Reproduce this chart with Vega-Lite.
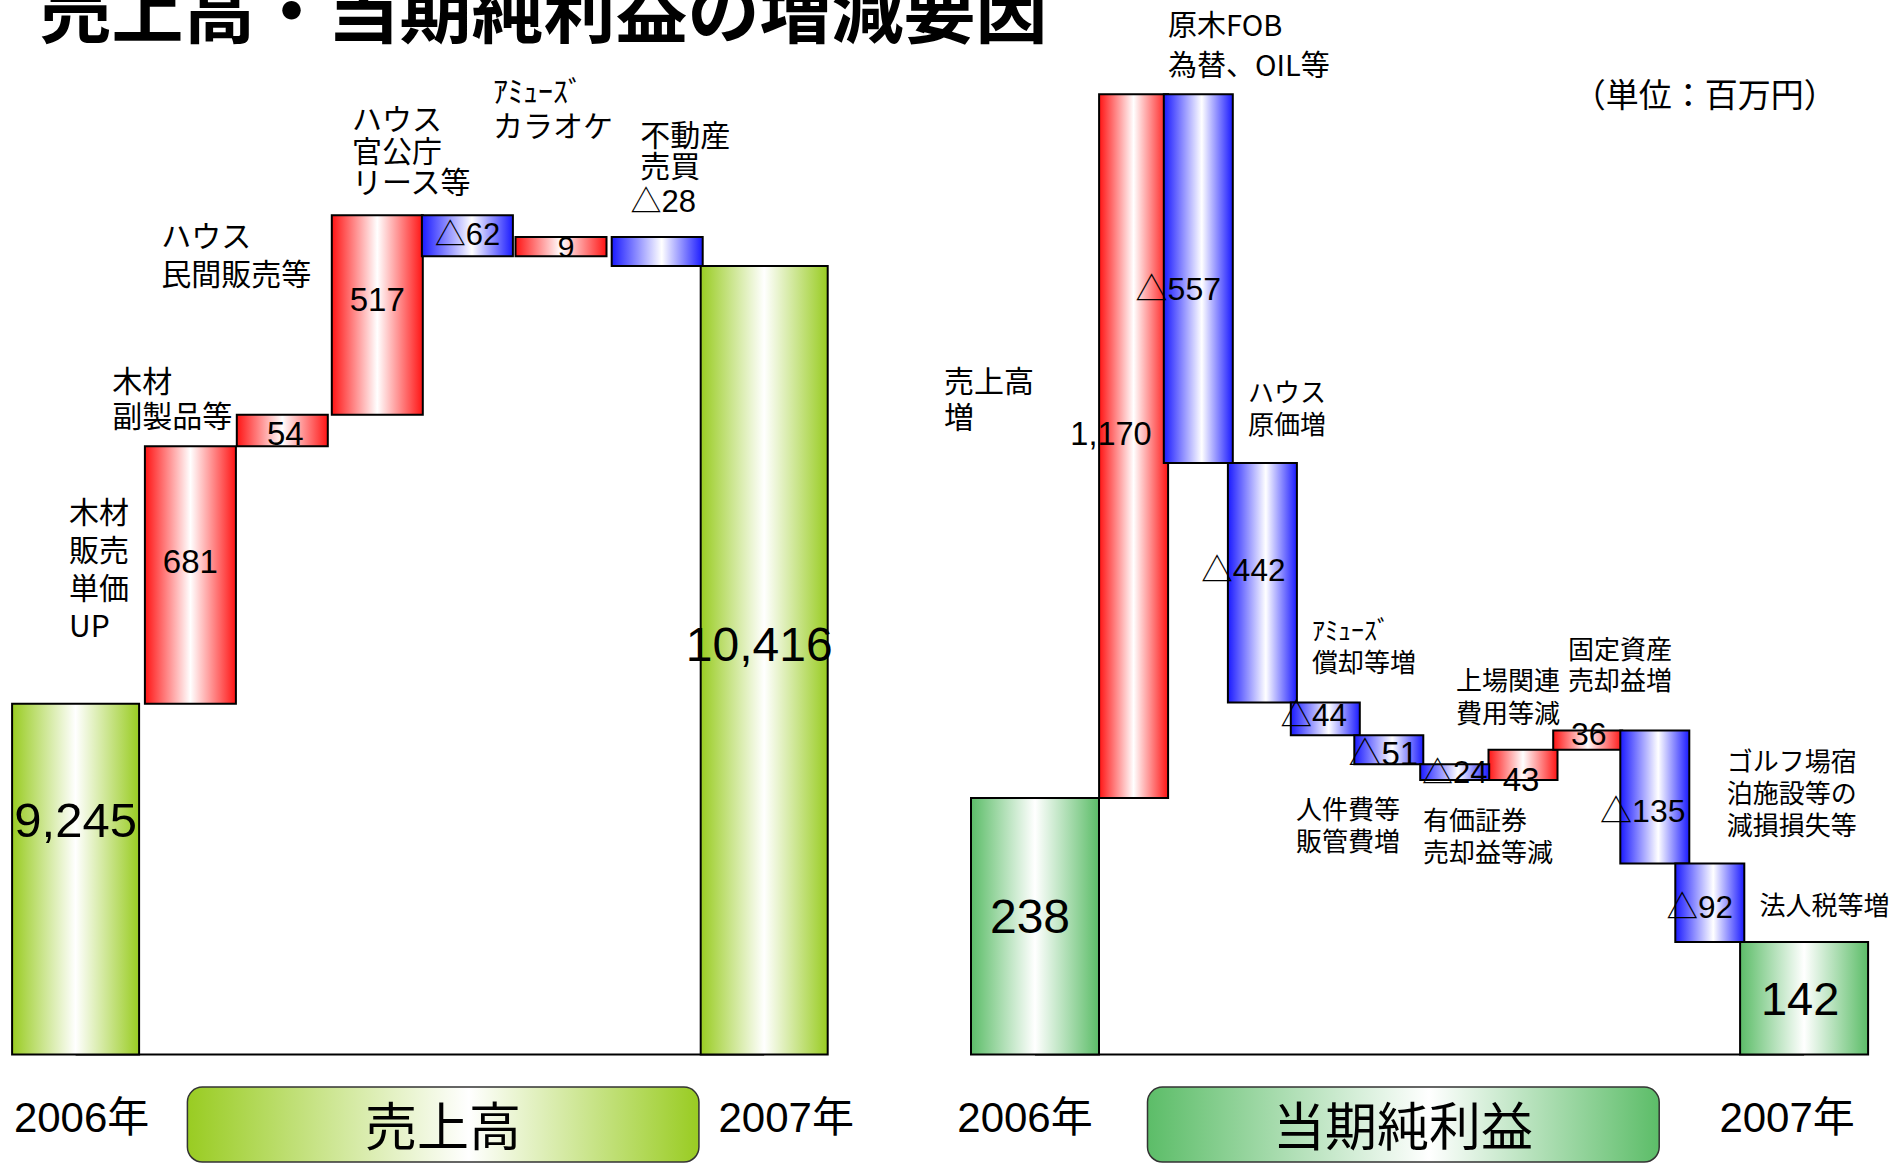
{
"$schema":"https://vega.github.io/schema/vega-lite/v6.json",
"width":1896,"height":1164,"autosize":"none","padding":0,"background":"white",
"config":{"view":{"stroke":null},"text":{"color":"black"}},
"datasets":{
"left":[
{"order":1,"kind":"base","lo":0,"hi":9245,"value":"9,245","year":"2006年"},
{"order":2,"kind":"up","lo":9245,"hi":9926,"value":"681","cat":["木材","販売","単価","UP"]},
{"order":3,"kind":"up","lo":9926,"hi":9980,"value":"54","cat":["木材","副製品等"]},
{"order":4,"kind":"up","lo":9980,"hi":10497,"value":"517","cat":["ハウス","民間販売等"]},
{"order":5,"kind":"down","lo":10435,"hi":10497,"value":"△62","cat":["ハウス","官公庁","リース等"]},
{"order":6,"kind":"up","lo":10435,"hi":10444,"value":"9","cat":["ｱﾐｭｰｽﾞ","カラオケ"]},
{"order":7,"kind":"down","lo":10416,"hi":10444,"value":"△28","cat":["不動産","売買"]},
{"order":8,"kind":"final","lo":0,"hi":10416,"value":"10,416","year":"2007年"}],
"right":[
{"order":11,"kind":"base","lo":0,"hi":238,"value":"238","year":"2006年"},
{"order":12,"kind":"up","lo":238,"hi":1408,"value":"1,170","cat":["売上高","増"]},
{"order":13,"kind":"down","lo":851,"hi":1408,"value":"△557","cat":["原木FOB","為替、OIL等"]},
{"order":14,"kind":"down","lo":409,"hi":851,"value":"△442","cat":["ハウス","原価増"]},
{"order":15,"kind":"down","lo":365,"hi":409,"value":"△44","cat":["ｱﾐｭｰｽﾞ","償却等増"]},
{"order":16,"kind":"down","lo":314,"hi":365,"value":"△51","cat":["人件費等","販管費増"]},
{"order":17,"kind":"down","lo":290,"hi":314,"value":"△24","cat":["有価証券","売却益等減"]},
{"order":18,"kind":"up","lo":290,"hi":333,"value":"43","cat":["上場関連","費用等減"]},
{"order":19,"kind":"up","lo":333,"hi":369,"value":"36","cat":["固定資産","売却益増"]},
{"order":20,"kind":"down","lo":234,"hi":369,"value":"△135","cat":["ゴルフ場宿","泊施設等の","減損損失等"]},
{"order":21,"kind":"down","lo":142,"hi":234,"value":"△92","cat":["法人税等増"]},
{"order":22,"kind":"final","lo":0,"hi":142,"value":"142","year":"2007年"}]
},
"encoding":{"x":{"field":"order","type":"quantitative","axis":null,"scale":{"nice":false,"zero":false,"padding":0,"domain":[1,2,3,4,5,6,7,8,11,12,13,14,15,16,17,18,19,20,21,22],"range":[75.6,190.4,282.3,377.3,467.4,561.0,657.2,764.2,1035,1133.6,1198.3,1262.4,1325.3,1388.8,1454.7,1523,1587.7,1654.8,1709.8,1804.1]}}},
"resolve":{"scale":{"y":"independent"}},
"layer":[
{
"data":{"name":"left"},
"encoding":{"y":{"field":"hi","type":"quantitative","axis":null,"scale":{"nice":false,"zero":false,"padding":0,"domain":[-100,0,9245,9926,9980,10416,10435,10444,10497],"range":[1165,1054.4,703.8,446.2,414.8,266.0,256.3,237.0,215.2]}}},
"layer":[
{"transform":[{"filter":"datum.order==1"}],"mark":{"type":"rule","stroke":"black","strokeWidth":2},"encoding":{"x2":{"datum":8},"y":{"datum":0}}},
{"transform":[{"filter":"datum.kind=='base'||datum.kind=='final'"}],"mark":{"type":"bar","orient":"vertical","width":127,"stroke":"black","strokeWidth":2,"fill":{"gradient":"linear","x1":0,"y1":0,"x2":1,"y2":0,"stops":[{"offset":0,"color":"#99cc22"},{"offset":0.5,"color":"#ffffff"},{"offset":1,"color":"#99cc22"}]}},"encoding":{"y2":{"field":"lo"}}},
{"transform":[{"filter":"datum.kind=='up'"}],"mark":{"type":"bar","orient":"vertical","width":91,"stroke":"black","strokeWidth":2,"fill":{"gradient":"linear","x1":0,"y1":0,"x2":1,"y2":0,"stops":[{"offset":0,"color":"#ff1414"},{"offset":0.5,"color":"#ffffff"},{"offset":1,"color":"#ff1414"}]}},"encoding":{"y2":{"field":"lo"}}},
{"transform":[{"filter":"datum.kind=='down'"}],"mark":{"type":"bar","orient":"vertical","width":91,"stroke":"black","strokeWidth":2,"fill":{"gradient":"linear","x1":0,"y1":0,"x2":1,"y2":0,"stops":[{"offset":0,"color":"#1a1aff"},{"offset":0.55,"color":"#ffffff"},{"offset":1,"color":"#1a1aff"}]}},"encoding":{"y2":{"field":"lo"}}},
{"transform":[{"filter":"datum.order==1"}],"mark":{"type":"text","font":"Liberation Sans, Noto Sans CJK JP","fontSize":49,"baseline":"middle","dy":118},"encoding":{"text":{"field":"value"}}},
{"transform":[{"filter":"datum.order==2"}],"mark":{"type":"text","font":"Liberation Sans, Noto Sans CJK JP","fontSize":33,"baseline":"middle","dy":117},"encoding":{"text":{"field":"value"}}},
{"transform":[{"filter":"datum.order==3"}],"mark":{"type":"text","font":"Liberation Sans, Noto Sans CJK JP","fontSize":33,"baseline":"middle","dx":3,"dy":20},"encoding":{"text":{"field":"value"}}},
{"transform":[{"filter":"datum.order==4"}],"mark":{"type":"text","font":"Liberation Sans, Noto Sans CJK JP","fontSize":33,"baseline":"middle","dy":86},"encoding":{"text":{"field":"value"}}},
{"transform":[{"filter":"datum.order==5"}],"mark":{"type":"text","font":"Liberation Sans, Noto Sans CJK JP","fontSize":31,"baseline":"middle","dy":21},"encoding":{"text":{"field":"value"}}},
{"transform":[{"filter":"datum.order==6"}],"mark":{"type":"text","font":"Liberation Sans, Noto Sans CJK JP","fontSize":30,"baseline":"middle","dx":5,"dy":11},"encoding":{"text":{"field":"value"}}},
{"transform":[{"filter":"datum.order==7"}],"mark":{"type":"text","font":"Liberation Sans, Noto Sans CJK JP","fontSize":31,"baseline":"middle","dx":6,"dy":-34},"encoding":{"text":{"field":"value"}}},
{"transform":[{"filter":"datum.order==8"}],"mark":{"type":"text","font":"Liberation Sans, Noto Sans CJK JP","fontSize":48,"baseline":"middle","dx":-5,"dy":381},"encoding":{"text":{"field":"value"}}},
{"transform":[{"filter":"datum.order==2"}],"mark":{"type":"text","font":"Noto Sans CJK JP","fontSize":30,"lineHeight":38,"align":"left","baseline":"middle","dx":-121.4,"dy":68},"encoding":{"text":{"field":"cat"}}},
{"transform":[{"filter":"datum.order==3"}],"mark":{"type":"text","font":"Noto Sans CJK JP","fontSize":30,"lineHeight":35,"align":"left","baseline":"middle","dx":-170,"dy":-31.5},"encoding":{"text":{"field":"cat"}}},
{"transform":[{"filter":"datum.order==4"}],"mark":{"type":"text","font":"Noto Sans CJK JP","fontSize":30,"lineHeight":37.5,"align":"left","baseline":"middle","dx":-216,"dy":23.25},"encoding":{"text":{"field":"cat"}}},
{"transform":[{"filter":"datum.order==5"}],"mark":{"type":"text","font":"Noto Sans CJK JP","fontSize":30,"lineHeight":31.5,"align":"left","baseline":"middle","dx":-115.4,"dy":-94.2},"encoding":{"text":{"field":"cat"}}},
{"transform":[{"filter":"datum.order==6"}],"mark":{"type":"text","font":"Noto Sans CJK JP","fontSize":30,"lineHeight":35,"align":"left","baseline":"middle","dx":-68,"dy":-143.8},"encoding":{"text":{"field":"cat"}}},
{"transform":[{"filter":"datum.order==7"}],"mark":{"type":"text","font":"Noto Sans CJK JP","fontSize":30,"lineHeight":31.5,"align":"left","baseline":"middle","dx":-17,"dy":-100.25},"encoding":{"text":{"field":"cat"}}},
{"transform":[{"filter":"datum.order==1"}],"mark":{"type":"text","font":"Liberation Sans, Noto Sans CJK JP","fontSize":42,"baseline":"middle","dx":6},"encoding":{"y":{"datum":-58},"text":{"field":"year"}}},
{"transform":[{"filter":"datum.order==8"}],"mark":{"type":"text","font":"Liberation Sans, Noto Sans CJK JP","fontSize":42,"baseline":"middle","dx":22},"encoding":{"y":{"datum":-58},"text":{"field":"year"}}},
{"transform":[{"filter":"datum.order==2"}],"mark":{"type":"rect","cornerRadius":15,"xOffset":-3,"stroke":"#333333","strokeWidth":1.5,"fill":{"gradient":"linear","x1":0,"y1":0,"x2":1,"y2":0,"stops":[{"offset":0,"color":"#99cc22"},{"offset":0.55,"color":"#ffffff"},{"offset":1,"color":"#99cc22"}]}},"encoding":{"x2":{"datum":7.39},"y":{"datum":-29.5},"y2":{"datum":-97.3}}},
{"transform":[{"filter":"datum.order==4"}],"mark":{"type":"text","font":"Noto Sans CJK JP","fontSize":52,"baseline":"middle","dx":65.8},"encoding":{"y":{"datum":-68.5},"text":{"value":"売上高"}}},
{"transform":[{"filter":"datum.order==1"}],"mark":{"type":"text","font":"Noto Sans CJK JP","fontSize":72,"fontWeight":"bold","align":"left","baseline":"alphabetic","dx":-36,"dy":-178.2},"encoding":{"y":{"datum":10497},"text":{"value":"売上高・当期純利益の増減要因"}}}
]
},
{
"data":{"name":"right"},
"encoding":{"y":{"field":"hi","type":"quantitative","axis":null,"scale":{"nice":false,"zero":false,"padding":0,"domain":[-100,0,142,234,238,290,314,333,365,369,409,851,1408],"range":[1165,1054.4,942.0,863.4,798.1,779.9,764.2,749.7,735.2,730.4,702.5,463.1,94.3]}}},
"layer":[
{"transform":[{"filter":"datum.order==11"}],"mark":{"type":"rule","stroke":"black","strokeWidth":2},"encoding":{"x2":{"datum":22},"y":{"datum":0}}},
{"transform":[{"filter":"datum.kind=='base'||datum.kind=='final'"}],"mark":{"type":"bar","orient":"vertical","width":128,"stroke":"black","strokeWidth":2,"fill":{"gradient":"linear","x1":0,"y1":0,"x2":1,"y2":0,"stops":[{"offset":0,"color":"#5cbd68"},{"offset":0.5,"color":"#ffffff"},{"offset":1,"color":"#5cbd68"}]}},"encoding":{"y2":{"field":"lo"}}},
{"transform":[{"filter":"datum.kind=='up'"}],"mark":{"type":"bar","orient":"vertical","width":69,"stroke":"black","strokeWidth":2,"fill":{"gradient":"linear","x1":0,"y1":0,"x2":1,"y2":0,"stops":[{"offset":0,"color":"#ff1414"},{"offset":0.5,"color":"#ffffff"},{"offset":1,"color":"#ff1414"}]}},"encoding":{"y2":{"field":"lo"}}},
{"transform":[{"filter":"datum.kind=='down'"}],"mark":{"type":"bar","orient":"vertical","width":69,"stroke":"black","strokeWidth":2,"fill":{"gradient":"linear","x1":0,"y1":0,"x2":1,"y2":0,"stops":[{"offset":0,"color":"#1a1aff"},{"offset":0.55,"color":"#ffffff"},{"offset":1,"color":"#1a1aff"}]}},"encoding":{"y2":{"field":"lo"}}},
{"transform":[{"filter":"datum.order==11"}],"mark":{"type":"text","font":"Liberation Sans, Noto Sans CJK JP","fontSize":48,"baseline":"middle","dx":-5,"dy":121},"encoding":{"text":{"field":"value"}}},
{"transform":[{"filter":"datum.order==12"}],"mark":{"type":"text","font":"Liberation Sans, Noto Sans CJK JP","fontSize":32.5,"baseline":"middle","dx":-22.6,"dy":341},"encoding":{"text":{"field":"value"}}},
{"transform":[{"filter":"datum.order==13"}],"mark":{"type":"text","font":"Liberation Sans, Noto Sans CJK JP","fontSize":32,"baseline":"middle","dx":-20,"dy":196},"encoding":{"text":{"field":"value"}}},
{"transform":[{"filter":"datum.order==14"}],"mark":{"type":"text","font":"Liberation Sans, Noto Sans CJK JP","fontSize":31.5,"baseline":"middle","dx":-19,"dy":109},"encoding":{"text":{"field":"value"}}},
{"transform":[{"filter":"datum.order==15"}],"mark":{"type":"text","font":"Liberation Sans, Noto Sans CJK JP","fontSize":31.5,"baseline":"middle","dx":-11.5,"dy":14.5},"encoding":{"text":{"field":"value"}}},
{"transform":[{"filter":"datum.order==16"}],"mark":{"type":"text","font":"Liberation Sans, Noto Sans CJK JP","fontSize":33,"baseline":"middle","dx":-5.5,"dy":19.3},"encoding":{"text":{"field":"value"}}},
{"transform":[{"filter":"datum.order==17"}],"mark":{"type":"text","font":"Liberation Sans, Noto Sans CJK JP","fontSize":31,"baseline":"middle","dx":0,"dy":10},"encoding":{"text":{"field":"value"}}},
{"transform":[{"filter":"datum.order==18"}],"mark":{"type":"text","font":"Liberation Sans, Noto Sans CJK JP","fontSize":33,"baseline":"middle","dx":-2,"dy":31},"encoding":{"text":{"field":"value"}}},
{"transform":[{"filter":"datum.order==19"}],"mark":{"type":"text","font":"Liberation Sans, Noto Sans CJK JP","fontSize":32,"baseline":"middle","dx":1,"dy":5},"encoding":{"text":{"field":"value"}}},
{"transform":[{"filter":"datum.order==20"}],"mark":{"type":"text","font":"Liberation Sans, Noto Sans CJK JP","fontSize":32,"baseline":"middle","dx":-12,"dy":82},"encoding":{"text":{"field":"value"}}},
{"transform":[{"filter":"datum.order==21"}],"mark":{"type":"text","font":"Liberation Sans, Noto Sans CJK JP","fontSize":31.5,"baseline":"middle","dx":-10,"dy":46},"encoding":{"text":{"field":"value"}}},
{"transform":[{"filter":"datum.order==22"}],"mark":{"type":"text","font":"Liberation Sans, Noto Sans CJK JP","fontSize":47,"baseline":"middle","dx":-4,"dy":59},"encoding":{"text":{"field":"value"}}},
{"transform":[{"filter":"datum.order==12"}],"mark":{"type":"text","font":"Noto Sans CJK JP","fontSize":30,"lineHeight":36,"align":"left","baseline":"middle","dx":-189.6,"dy":289},"encoding":{"text":{"field":"cat"}}},
{"transform":[{"filter":"datum.order==13"}],"mark":{"type":"text","font":"Noto Sans CJK JP","fontSize":29,"lineHeight":40,"align":"left","baseline":"middle","dx":-30.3,"dy":-67.8},"encoding":{"text":{"field":"cat"}}},
{"transform":[{"filter":"datum.order==14"}],"mark":{"type":"text","font":"Noto Sans CJK JP","fontSize":26,"lineHeight":31.5,"align":"left","baseline":"middle","dx":-14.4,"dy":-68.75},"encoding":{"text":{"field":"cat"}}},
{"transform":[{"filter":"datum.order==15"}],"mark":{"type":"text","font":"Noto Sans CJK JP","fontSize":26,"lineHeight":31.4,"align":"left","baseline":"middle","dx":-13.3,"dy":-70.2},"encoding":{"text":{"field":"cat"}}},
{"transform":[{"filter":"datum.order==16"}],"mark":{"type":"text","font":"Noto Sans CJK JP","fontSize":26,"lineHeight":31.4,"align":"left","baseline":"middle","dx":-92.8,"dy":76.1},"encoding":{"text":{"field":"cat"}}},
{"transform":[{"filter":"datum.order==17"}],"mark":{"type":"text","font":"Noto Sans CJK JP","fontSize":26,"lineHeight":31.4,"align":"left","baseline":"middle","dx":-31.7,"dy":58.1},"encoding":{"text":{"field":"cat"}}},
{"transform":[{"filter":"datum.order==18"}],"mark":{"type":"text","font":"Noto Sans CJK JP","fontSize":26,"lineHeight":32.6,"align":"left","baseline":"middle","dx":-67,"dy":-67.7},"encoding":{"text":{"field":"cat"}}},
{"transform":[{"filter":"datum.order==19"}],"mark":{"type":"text","font":"Noto Sans CJK JP","fontSize":26,"lineHeight":31.4,"align":"left","baseline":"middle","dx":-19.7,"dy":-79.8},"encoding":{"text":{"field":"cat"}}},
{"transform":[{"filter":"datum.order==20"}],"mark":{"type":"text","font":"Noto Sans CJK JP","fontSize":26,"lineHeight":32,"align":"left","baseline":"middle","dx":72,"dy":32.6},"encoding":{"text":{"field":"cat"}}},
{"transform":[{"filter":"datum.order==21"}],"mark":{"type":"text","font":"Noto Sans CJK JP","fontSize":26,"align":"left","baseline":"middle","dx":49.6,"dy":43.6},"encoding":{"text":{"field":"cat"}}},
{"transform":[{"filter":"datum.order==11"}],"mark":{"type":"text","font":"Liberation Sans, Noto Sans CJK JP","fontSize":42,"baseline":"middle","dx":-10},"encoding":{"y":{"datum":-58},"text":{"field":"year"}}},
{"transform":[{"filter":"datum.order==22"}],"mark":{"type":"text","font":"Liberation Sans, Noto Sans CJK JP","fontSize":42,"baseline":"middle","dx":-17},"encoding":{"y":{"datum":-58},"text":{"field":"year"}}},
{"transform":[{"filter":"datum.order==12"}],"mark":{"type":"rect","cornerRadius":15,"xOffset":13.9,"stroke":"#333333","strokeWidth":1.5,"fill":{"gradient":"linear","x1":0,"y1":0,"x2":1,"y2":0,"stops":[{"offset":0,"color":"#5cbd68"},{"offset":0.55,"color":"#ffffff"},{"offset":1,"color":"#5cbd68"}]}},"encoding":{"x2":{"datum":20.08},"y":{"datum":-29.5},"y2":{"datum":-97.3}}},
{"transform":[{"filter":"datum.order==16"}],"mark":{"type":"text","font":"Noto Sans CJK JP","fontSize":52,"baseline":"middle","dx":14.2},"encoding":{"y":{"datum":-68.5},"text":{"value":"当期純利益"}}},
{"transform":[{"filter":"datum.order==21"}],"mark":{"type":"text","font":"Noto Sans CJK JP","fontSize":33,"baseline":"middle","dx":-5,"dy":2.4},"encoding":{"y":{"datum":1408},"text":{"value":"（単位：百万円）"}}}
]
}
]
}
